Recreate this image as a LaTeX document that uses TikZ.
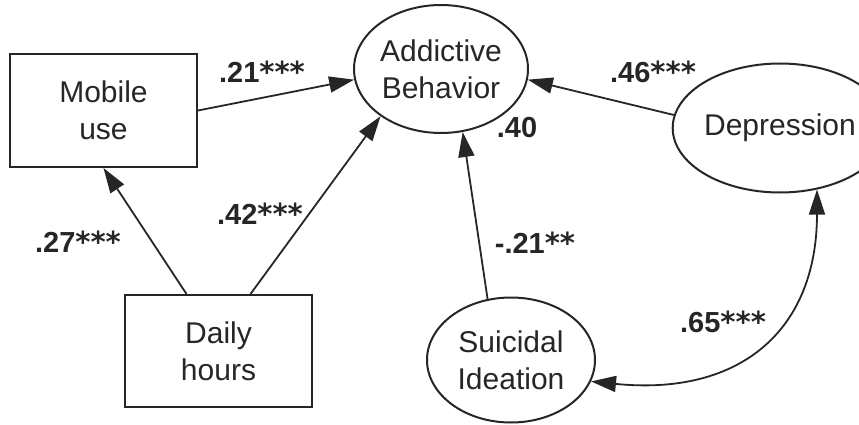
\documentclass[tikz,border=0pt]{standalone}
\usepackage{fontspec}
\setmainfont{Liberation Sans}
\newfontfamily\starfont{DejaVu Sans}
\usetikzlibrary{arrows.meta,positioning,shapes.geometric}
\definecolor{ink}{HTML}{262626}
\newcommand{\sig}[1]{{\starfont #1}}

\begin{document}
\begin{tikzpicture}[x=1pt, y=-1pt,
  var/.style={draw=ink, line width=2pt, text=ink, align=center, inner sep=0pt,
              font=\fontsize{30}{37}\selectfont},
  obs/.style={var, rectangle, minimum width=187pt, minimum height=113pt},
  lat/.style={var, ellipse},
  est/.style={font=\bfseries\fontsize{29}{34}\selectfont, text=ink},
  arr/.style={-{Triangle[length=25pt,width=16pt]}, draw=ink, line width=1.8pt}]

\useasboundingbox (0,0) rectangle (859,425);

\node[obs] (mobile) at (103.5,110.5) {Mobile\\use};
\node[obs, minimum height=112pt] (daily) at (218.5,351) {Daily\\hours};
\node[lat, minimum width=174pt, minimum height=128pt] (addict) at (441,69) {Addictive\\Behavior};
\node[lat, minimum width=170pt, minimum height=129pt] (depr) at (780,128) {Depression};
\node[lat, minimum width=168pt, minimum height=125pt] (suicid) at (511,360) {Suicidal\\Ideation};

\draw[arr] (mobile.east) -- (addict.187);
\draw[arr] ([xshift=-32pt]daily.north) -- (mobile.south);
\draw[arr] ([xshift=32pt]daily.north) -- (addict.218);
\draw[arr] (depr.173) -- (addict.353);
\draw[arr] (suicid.111) -- (addict.289);
\draw[arr, {Triangle[length=25pt,width=16pt]}-{Triangle[length=25pt,width=16pt]}]
  (suicid.345) .. controls +(150,15) and +(0,140) .. (depr.301);

\node[est] (w21) at (262,72) {.21\sig{***}};
\node[est] (w42) at (260,214) {.42\sig{***}};
\node[est] (w27) at (78,242) {.27\sig{***}};
\node[est] (w46) at (653,72) {.46\sig{***}};
\node[est] (r40) at (517,128) {.40};
\node[est] (w21s) at (535,243) {-.21\sig{**}};
\node[est] (w65) at (723,322) {.65\sig{***}};
\end{tikzpicture}
\end{document}
